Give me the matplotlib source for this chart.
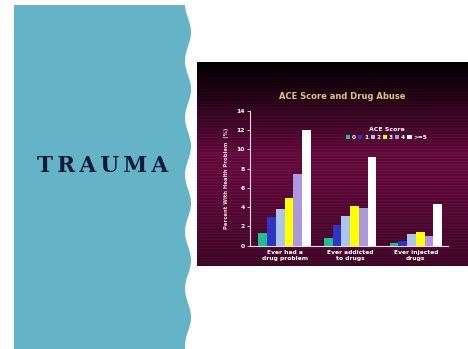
import numpy as np
import matplotlib
matplotlib.use('Agg')
from matplotlib import pyplot as plt
from matplotlib.patches import Polygon, Patch

# data
groups = ['Ever had a\ndrug problem', 'Ever addicted\nto drugs', 'Ever injected\ndrugs']
scores = ['0', '1', '2', '3', '4', '>=5']
colors = ['#1fbf8f', '#2e34c8', '#a9c6ef', '#ffff00', '#ad98e0', '#ffffff']
vals_0 = [1.3, 0.8, 0.3]
vals_1 = [3.0, 2.1, 0.5]
vals_2 = [3.8, 3.1, 1.2]
vals_3 = [5.0, 4.1, 1.4]
vals_4 = [7.5, 3.9, 1.0]
vals_5 = [12.0, 9.2, 4.3]
series = [vals_0, vals_1, vals_2, vals_3, vals_4, vals_5]

W, H = 468, 349
fig = plt.figure(figsize=(W / 100, H / 100), dpi=100)
fig.patch.set_facecolor('white')

# slide background: teal panel with wavy edge
bg = fig.add_axes([0, 0, 1, 1])
bg.set_xlim(0, W)
bg.set_ylim(H, 0)
bg.axis('off')
yy = np.linspace(5, H, 300)
xx = 188 + 3 * np.sin(2 * np.pi * (yy - 18) / 57)
pts = [(14, 5)] + list(zip(xx, yy)) + [(14, H)]
bg.add_patch(Polygon(pts, closed=True, facecolor='#64b3c6', edgecolor='none'))
bg.text(102.5, 165.5, 'T\u2009R\u2009A\u2009U\u2009M\u2009A', ha='center', va='center',
        fontsize=15.5, fontweight='bold', family='DejaVu Serif', color='#101a3c')

# chart picture background (dark maroon with stripes)
panel = fig.add_axes([197 / W, 1 - 266 / H, 271 / W, 204 / H])
n = 204
t = np.linspace(0, 1, n)
amp = np.clip(t / 0.45, 0, 1) * (1 - 0.35 * np.clip((t - 0.55) / 0.45, 0, 1))
stripe = 0.82 + 0.18 * (np.arange(n) % 3 == 0)
base = np.array([0.44, 0.05, 0.27])
img = (amp * stripe)[:, None] * base[None, :]
img = np.repeat(img[:, None, :], 4, axis=1)
panel.imshow(img, aspect='auto', interpolation='nearest')
panel.axis('off')
panel.text(0.535, 0.83, 'ACE Score and Drug Abuse', transform=panel.transAxes,
           ha='center', va='center', fontsize=6.0, fontweight='bold', color='#d8c67c')

# data axes
ax = fig.add_axes([250 / W, 1 - 245.7 / H, 198 / W, 134.7 / H])
ax.patch.set_alpha(0)
x = np.arange(len(groups))
bw = 0.133
for i, (vals, c) in enumerate(zip(series, colors)):
    ax.bar(x + (i - 2.5) * bw, vals, bw, color=c, label=scores[i], zorder=3)
ax.set_xlim(-0.527, 2.49)
ax.set_ylim(0, 14)
ax.set_yticks(range(0, 15, 2))
ax.set_xticks(x)
ax.set_xticklabels(groups)
for s in ['top', 'right']:
    ax.spines[s].set_visible(False)
for s in ['left', 'bottom']:
    ax.spines[s].set_color('#f0d8e8')
    ax.spines[s].set_linewidth(0.8)
ax.tick_params(axis='y', colors='#f0d8e8', labelcolor='white', labelsize=4.3, length=2, width=0.6, pad=2)
ax.tick_params(axis='x', length=0, labelcolor='white', labelsize=4.3, pad=3)
for lb in ax.get_xticklabels() + ax.get_yticklabels():
    lb.set_fontweight('bold')
ax.set_ylabel('Percent With Health Problem  (%)', fontsize=3.8, fontweight='bold',
              color='#f0d8e8', labelpad=5)

handles = [Patch(facecolor=c, edgecolor='none') for c in colors]
leg = ax.legend(handles, scores, ncol=6, loc='center', bbox_to_anchor=(0.69, 0.83),
                frameon=False, fontsize=4.2, handlelength=0.7, handleheight=0.7,
                handletextpad=0.3, columnspacing=0.4, title='ACE Score',
                title_fontsize=4.5)
for tx in leg.get_texts():
    tx.set_color('white')
    tx.set_fontweight('bold')
leg.get_title().set_color('white')
leg.get_title().set_fontweight('bold')

fig.savefig('out.png', dpi=100, facecolor='white')
